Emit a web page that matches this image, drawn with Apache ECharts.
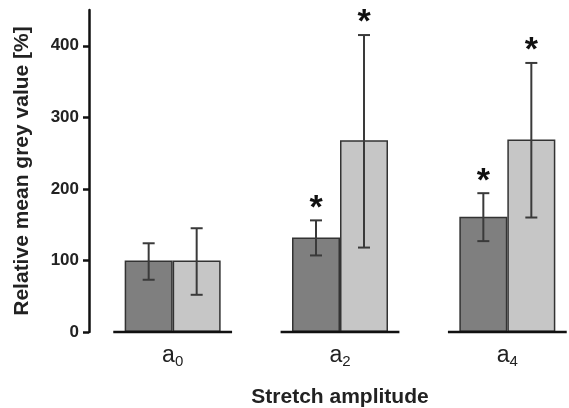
<!DOCTYPE html>
<html>
<head>
<meta charset="utf-8">
<script src="https://cdn.jsdelivr.net/npm/echarts@6/dist/echarts.min.js"></script>
<style>
  html, body { margin: 0; padding: 0; background: #fff; }
  #chart { width: 569px; height: 408px; }
</style>
</head>
<body>
<div id="chart"></div>
<script>
// data
const categories = ['a', 'a', 'a'];
const subscripts = ['0', '2', '4'];
const darkValues = [100, 132, 161];
const lightValues = [100, 268, 269];
const darkLow = [73, 107, 127];
const darkHigh = [124, 156, 194];
const lightLow = [52, 118, 160];
const lightHigh = [145, 415, 376];
const darkStar = [0, 1, 1];
const lightStar = [0, 1, 1];
const yTicks = [0, 100, 200, 300, 400];

const barW = 48;
const font = 'Liberation Sans, Arial';

function errorBar(offset) {
  return function (params, api) {
    const i = api.value(0);
    const lo = api.coord([i, api.value(1)]);
    const hi = api.coord([i, api.value(2)]);
    const cx = lo[0] + offset;
    const st = { stroke: '#3a3a3a', lineWidth: 2 };
    const kids = [
      { type: 'line', shape: { x1: cx, y1: lo[1], x2: cx, y2: hi[1] }, style: st },
      { type: 'line', shape: { x1: cx - 6, y1: lo[1], x2: cx + 6, y2: lo[1] }, style: st },
      { type: 'line', shape: { x1: cx - 6, y1: hi[1], x2: cx + 6, y2: hi[1] }, style: st }
    ];
    if (api.value(3)) {
      kids.push({
        type: 'text',
        style: {
          text: '*', x: cx, y: hi[1] + 5,
          align: 'center', verticalAlign: 'bottom',
          font: 'bold 34px ' + font, fill: '#111'
        }
      });
    }
    return { type: 'group', children: kids };
  };
}

const chart = echarts.init(document.getElementById('chart'));
chart.setOption({
  animation: false,
  grid: { left: 89, top: 10, width: 502, bottom: 76, outerBoundsMode: 'none', containLabel: false },
  xAxis: {
    type: 'category',
    data: categories,
    axisLine: { show: false },
    axisTick: { show: false },
    axisLabel: {
      margin: 10,
      formatter: (v, i) => '{a|' + v + '}{s|' + subscripts[i] + '}',
      rich: {
        a: { fontSize: 23, color: '#222', fontFamily: font },
        s: { fontSize: 15, color: '#222', fontFamily: font, verticalAlign: 'bottom', padding: [12, 0, 0, 0] }
      }
    },
    name: 'Stretch amplitude',
    nameLocation: 'middle',
    nameGap: 55,
    nameTextStyle: { fontSize: 21, fontWeight: 'bold', color: '#222', fontFamily: font }
  },
  yAxis: {
    type: 'value',
    min: 0,
    max: 450,
    splitLine: { show: false },
    axisLine: { show: true, lineStyle: { color: '#111', width: 2.5 } },
    axisTick: { show: true, customValues: yTicks, length: 6, lineStyle: { color: '#111', width: 2.5 } },
    axisLabel: {
      customValues: yTicks,
      margin: 10,
      fontSize: 17, fontWeight: 'bold', color: '#222',
      fontFamily: font
    },
    name: 'Relative mean grey value [%]',
    nameLocation: 'middle',
    nameRotate: 90,
    nameGap: 56,
    nameTextStyle: { fontSize: 21, fontWeight: 'bold', color: '#222', fontFamily: font }
  },
  series: [
    {
      type: 'custom',
      renderItem: (params, api) => {
        const p = api.coord([api.value(0), 0]);
        const w = api.size([1, 0])[0] * 0.71;
        return {
          type: 'line',
          shape: { x1: p[0] - w / 2, y1: p[1], x2: p[0] + w / 2, y2: p[1] },
          style: { stroke: '#111', lineWidth: 2.5 }
        };
      },
      data: categories.map((c, i) => [i]),
      z: 5
    },
    {
      type: 'bar',
      data: darkValues,
      barWidth: barW,
      barGap: '0%',
      itemStyle: { color: '#7f7f7f', borderColor: '#333', borderWidth: 1.5 }
    },
    {
      type: 'bar',
      data: lightValues,
      barWidth: barW,
      barGap: '0%',
      itemStyle: { color: '#c6c6c6', borderColor: '#333', borderWidth: 1.5 }
    },
    {
      type: 'custom',
      renderItem: errorBar(-barW / 2),
      data: darkValues.map((v, i) => [i, darkLow[i], darkHigh[i], darkStar[i]]),
      z: 6
    },
    {
      type: 'custom',
      renderItem: errorBar(barW / 2),
      data: lightValues.map((v, i) => [i, lightLow[i], lightHigh[i], lightStar[i]]),
      z: 6
    }
  ]
});
</script>
</body>
</html>
